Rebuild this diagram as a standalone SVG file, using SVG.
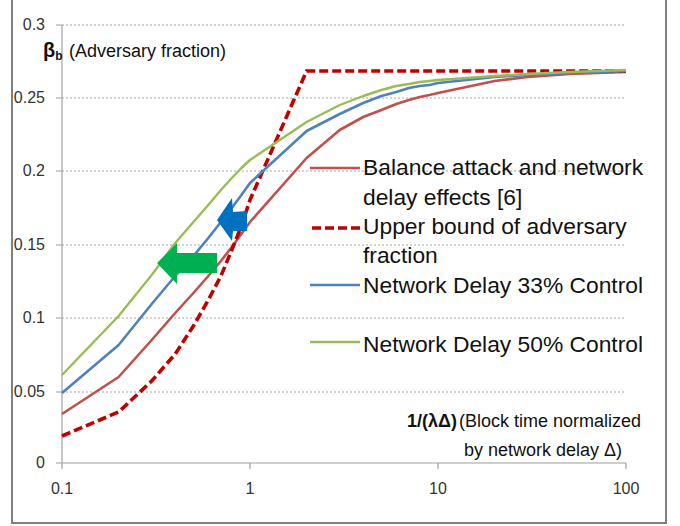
<svg xmlns="http://www.w3.org/2000/svg" width="680" height="526" viewBox="0 0 680 526">
  <style>
    .grid { stroke: #a6a6a6; stroke-width: 1; stroke-dasharray: 2 2; fill: none; }
    .axis { stroke: #a0a0a0; stroke-width: 1.2; fill: none; }
    .tick { font-family: "Liberation Sans", Arial, sans-serif; font-size: 16px; fill: #333; }
    .lbl { font-family: "Liberation Sans", Arial, sans-serif; fill: #111; }
    .leg { font-family: "Liberation Sans", Arial, sans-serif; font-size: 22.8px; fill: #111; }
    .s-red { stroke: #C0504D; stroke-width: 2.6; fill: none; stroke-linejoin: round; }
    .s-bound { stroke: #C00000; stroke-width: 3.6; fill: none; stroke-dasharray: 9 4; }
    .s-blue { stroke: #4F81BD; stroke-width: 2.6; fill: none; stroke-linejoin: round; }
    .s-green { stroke: #9BBB59; stroke-width: 2.4; fill: none; stroke-linejoin: round; }
  </style>

  <!-- background and chart frame -->
  <rect x="0" y="0" width="680" height="526" fill="#ffffff"/>
  <rect x="12" y="-10" width="654" height="533" fill="none" stroke="#7f7f7f" stroke-width="2"/>

  <!-- horizontal gridlines -->
  <g id="gridlines">
    <line class="grid" x1="62" y1="25" x2="626" y2="25"/>
    <line class="grid" x1="62" y1="98" x2="626" y2="98"/>
    <line class="grid" x1="62" y1="171" x2="626" y2="171"/>
    <line class="grid" x1="62" y1="245" x2="626" y2="245"/>
    <line class="grid" x1="62" y1="318" x2="626" y2="318"/>
    <line class="grid" x1="62" y1="392" x2="626" y2="392"/>
  </g>

  <!-- axes with ticks -->
  <g id="axes">
    <line class="axis" x1="62" y1="25" x2="62" y2="463"/>
    <line class="axis" x1="62" y1="463" x2="626" y2="463"/>
    <path class="axis" d="M56 25H62M56 98H62M56 171H62M56 245H62M56 318H62M56 392H62M56 463H62"/>
    <path class="axis" d="M62 463V469M250 463V469M438 463V469M626 463V469"/>
  </g>

  <!-- tick labels -->
  <g id="y-ticks" class="tick" text-anchor="end">
    <text x="45" y="30">0.3</text>
    <text x="45" y="103">0.25</text>
    <text x="45" y="176">0.2</text>
    <text x="45" y="250">0.15</text>
    <text x="45" y="323">0.1</text>
    <text x="45" y="397">0.05</text>
    <text x="45" y="468">0</text>
  </g>
  <g id="x-ticks" class="tick" text-anchor="middle">
    <text x="62" y="494">0.1</text>
    <text x="250" y="494">1</text>
    <text x="438" y="494">10</text>
    <text x="626" y="494">100</text>
  </g>

  <!-- axis titles -->
  <g id="y-title" class="lbl">
    <text x="43" y="57" font-size="20" font-weight="bold">β<tspan font-size="12" dy="3">b</tspan></text>
    <text x="69" y="57" font-size="18">(Adversary fraction)</text>
  </g>
  <g id="x-title" class="lbl">
    <text x="457" y="427" font-size="18" font-weight="bold" text-anchor="end">1/(λΔ)</text>
    <text x="459" y="427" font-size="18">(Block time normalized</text>
    <text x="464" y="456" font-size="18">by network delay Δ)</text>
  </g>

  <!-- data series -->
  <g id="series">
    <polyline id="balance" class="s-red" points="62,414 118.6,377 151.7,340 175.2,313 193.4,293 208.3,276 220.9,261 231.8,247 241.4,234 250,222 306.6,158 339.7,130 363.2,117 381.4,110 396.3,104 408.9,100 419.8,97 429.4,95 438,93 494.6,81 527.7,77 569.4,74 626,72"/>
    <polyline id="upper-bound" class="s-bound" points="62,436 118.6,412 151.7,381 175.2,354 193.4,326 208.3,300 220.9,276 231.8,250 241.4,226 250,200 306.6,71 626,71"/>
    <polyline id="delay-33" class="s-blue" points="62,393 118.6,345 151.7,304 175.2,276 193.4,256 208.3,238 220.9,222 231.8,208 241.4,195 250,183 306.6,131 339.7,114 363.2,103 381.4,96 396.3,92 408.9,88 419.8,86 429.4,85 438,83 494.6,77 527.7,75 569.4,73 626,71"/>
    <polyline id="delay-50" class="s-green" points="62,375 118.6,316 151.7,275 175.2,243 193.4,222 208.3,205 220.9,190 231.8,178 241.4,168 250,160 306.6,122 339.7,105 363.2,96 381.4,90 396.3,86 408.9,84 419.8,82 429.4,81 438,80 494.6,76 527.7,74 569.4,72 626,70"/>
  </g>

  <!-- shift arrows -->
  <g id="arrows">
    <polygon id="arrow-blue" fill="#0070C0" points="217,220 232,198 233,212 247,211 247,231 233,231 232,241"/>
    <polygon id="arrow-green" fill="#00B050" points="157,263 177,243 177,253 217,253 217,273 177,273 177,284"/>
  </g>

  <!-- legend -->
  <g id="legend">
    <line class="s-red" x1="310" y1="168" x2="360" y2="168"/>
    <text class="leg" x="363" y="175">Balance attack and network</text>
    <text class="leg" x="363" y="205">delay effects [6]</text>
    <line class="s-bound" x1="312" y1="228" x2="362" y2="228"/>
    <text class="leg" x="363" y="234">Upper bound of adversary</text>
    <text class="leg" x="363" y="263">fraction</text>
    <line class="s-blue" x1="310" y1="285" x2="360" y2="285"/>
    <text class="leg" x="363" y="293">Network Delay 33% Control</text>
    <line class="s-green" x1="310" y1="342" x2="360" y2="342"/>
    <text class="leg" x="363" y="352">Network Delay 50% Control</text>
  </g>
</svg>
